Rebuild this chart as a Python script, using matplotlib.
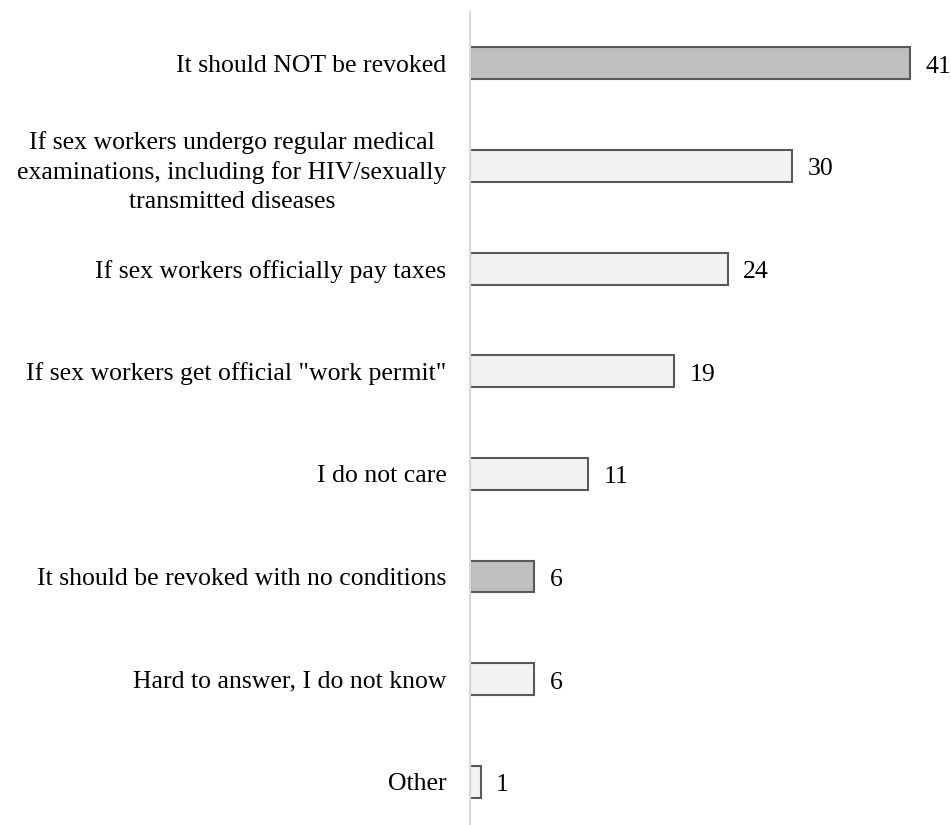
import numpy as np
import matplotlib.pyplot as plt

# survey answers, top to bottom
labels = [
    'It should NOT be revoked',
    'If sex workers undergo regular medical\nexaminations, including for HIV/sexually\ntransmitted diseases',
    'If sex workers officially pay taxes',
    'If sex workers get official "work permit"',
    'I do not care',
    'It should be revoked with no conditions',
    'Hard to answer, I do not know',
    'Other',
]
values = [41, 30, 24, 19, 11, 6, 6, 1]
highlight = [True, False, False, False, False, True, False, False]

plt.rcParams['font.family'] = ['Liberation Serif', 'DejaVu Serif']

fig = plt.figure(figsize=(9.51, 8.25), dpi=100)
ax = fig.add_axes([470 / 951, 0, 481 / 951, 813 / 825])

y = np.arange(len(values))
colors = ['#bfbfbf' if h else '#f2f2f2' for h in highlight]
ax.barh(y, values, height=0.31, color=colors, edgecolor='#595959', linewidth=1.5)

for yi, v in zip(y, values):
    ax.annotate(str(v), (v, yi), xytext=(11, -2.5), textcoords='offset points',
                va='center', ha='left', fontsize=18.5, color='black')

ax.set_yticks(y)
ax.set_yticklabels(labels, fontsize=18.5, ha='right', multialignment='center',
                   linespacing=1.4)
ax.tick_params(axis='y', length=0, pad=17)
ax.set_xticks([])
ax.set_xlim(0, 44.8)
ax.set_ylim(7.42, -0.5)

for s in ['top', 'right', 'bottom']:
    ax.spines[s].set_visible(False)
ax.spines['left'].set_color('#d9d9d9')
ax.spines['left'].set_linewidth(1.5)

fig.savefig('out.png', dpi=100)
